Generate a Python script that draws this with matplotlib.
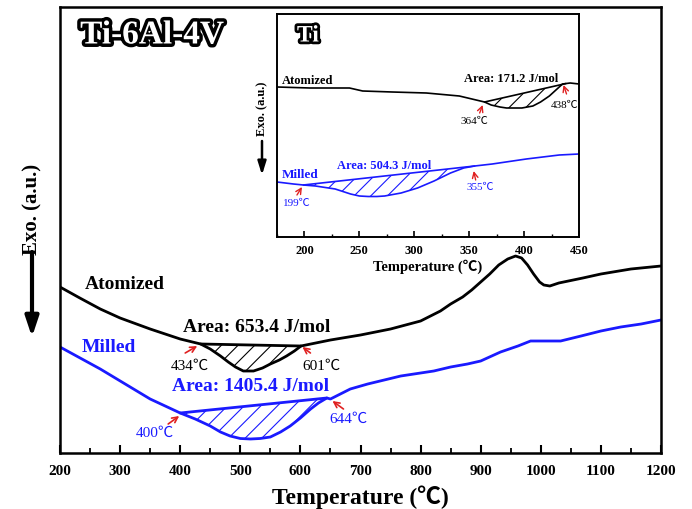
import numpy as np
import matplotlib
matplotlib.use("Agg")
import matplotlib.pyplot as plt
import matplotlib.patheffects as pe
from matplotlib.patches import FancyArrowPatch
from matplotlib.ticker import MultipleLocator

# ---------------- data (main chart: Ti-6Al-4V) ----------------
atom_T = [200, 233, 267, 300, 350, 400, 434, 450, 467, 480, 492, 505, 522, 537, 550,
          565, 577, 590, 601, 650, 700, 750, 800, 833, 850, 870, 885, 900, 915, 930,
          945, 958, 968, 978, 988, 998, 1005, 1015, 1030, 1070, 1100, 1150, 1200]
atom_y = [166, 155, 144, 135, 124, 114, 109, 104, 97, 91, 86, 82, 82, 85, 89,
          93, 97, 102, 107, 113, 118, 124, 132, 142, 149, 156, 163, 171, 179, 188,
          194, 197, 195, 188, 179, 171, 168, 167, 170, 175, 179, 184, 187]
mill_T = [200, 267, 350, 400, 425, 450, 467, 483, 500, 517, 533, 550, 567, 583, 600,
          617, 630, 644, 650, 683, 712, 767, 822, 850, 878, 900, 933, 962, 983, 1012,
          1033, 1067, 1100, 1133, 1167, 1200]
mill_y = [106, 84, 54, 40, 34, 27, 21, 17, 14.5, 14, 14.5, 16, 21, 27, 35,
          44, 50, 55, 54, 64, 69, 77, 82, 86, 89, 92, 101, 107, 112, 112,
          112, 117, 122, 126, 129, 133]
atom_peak = (434, 601)
mill_peak = (400, 644)
main_ticks = [200, 300, 400, 500, 600, 700, 800, 900, 1000, 1100, 1200]

# ---------------- data (inset: Ti) ----------------
ti_atom_T = [175, 205, 241, 253, 280, 311, 341, 364, 370, 378, 384, 390, 398, 408, 415,
             423, 429, 435, 442, 450]
ti_atom_y = [150, 149, 149, 146, 145, 144, 141, 135, 132, 130, 129, 129, 129, 131, 135,
             141, 147, 153, 154, 153]
ti_mill_T = [175, 190, 199, 210, 222, 228, 242, 250, 258, 266, 273, 288, 303, 318, 333,
             345, 355, 371, 402, 432, 450]
ti_mill_y = [55, 53, 52, 51, 49, 48, 43, 41, 40.5, 40.5, 41, 44, 49, 56, 64,
             69, 71, 73, 78, 82, 83]
ti_atom_peak = (364, 438)
ti_mill_peak = (199, 355)
inset_ticks = [200, 250, 300, 350, 400, 450]

serif = ['Liberation Serif', 'Noto Sans CJK SC', 'DejaVu Serif']
plt.rcParams['font.family'] = serif
plt.rcParams['hatch.linewidth'] = 0.8

BLUE = '#1a1aff'
RED = '#e02020'

fig = plt.figure(figsize=(6.92, 5.10), dpi=100)
ax = fig.add_axes([60/692, 1-454/510, 601/692, 446/510])


def px2main(x, y):
    return 200 + (x-60)/0.6, 454 - y


def px2ins(x, y):
    return 175 + (x-277)/1.1, 238 - y


def peak_fill(a, T, y, t0, t1, color, lw):
    T = np.asarray(T, float); y = np.asarray(y, float)
    y0 = np.interp(t0, T, y); y1 = np.interp(t1, T, y)
    m = (T > t0) & (T < t1)
    tt = np.concatenate([[t0], T[m], [t1]])
    yy = np.concatenate([[y0], y[m], [y1]])
    base = y0 + (y1 - y0) * (tt - t0) / (t1 - t0)
    a.fill_between(tt, yy, base, facecolor='none', edgecolor=color,
                   hatch='//', linewidth=0)
    a.plot([t0, t1], [y0, y1], color=color, lw=lw, solid_capstyle='round')


ax.plot(atom_T, atom_y, color='black', lw=2.0, solid_joinstyle='round')
ax.plot(mill_T, mill_y, color=BLUE, lw=2.0, solid_joinstyle='round')
peak_fill(ax, atom_T, atom_y, *atom_peak, 'black', 2.0)
peak_fill(ax, mill_T, mill_y, *mill_peak, BLUE, 2.0)

ax.set_xlim(200, 1200)
ax.set_ylim(0, 446)
ax.set_xticks(main_ticks)
ax.xaxis.set_minor_locator(MultipleLocator(50))
ax.set_yticks([])
ax.tick_params(axis='x', which='major', direction='in', length=6, width=1.5,
               pad=8, labelsize=11)
ax.tick_params(axis='x', which='minor', direction='in', length=3.5, width=1.3)
for lab in ax.get_xticklabels():
    lab.set_fontweight('bold')
for s in ax.spines.values():
    s.set_linewidth(1.8)
ax.set_xlabel('Temperature (℃)', fontsize=17, fontweight='bold', labelpad=5)

# main texts
ax.text(*px2main(152, 36), 'Ti-6Al-4V', fontsize=24, fontweight='bold', color='white',
        ha='center', va='center',
        path_effects=[pe.withStroke(linewidth=5, foreground='black')])
ax.text(*px2main(85, 285), 'Atomized', fontsize=14, fontweight='bold',
        ha='left', va='center', color='black')
ax.text(*px2main(82, 348), 'Milled', fontsize=14, fontweight='bold',
        ha='left', va='center', color=BLUE)
ax.text(*px2main(256, 328), 'Area: 653.4 J/mol', fontsize=14,
        fontweight='bold', ha='center', va='center', color='black')
ax.text(*px2main(250, 387), 'Area: 1405.4 J/mol', fontsize=14,
        fontweight='bold', ha='center', va='center', color=BLUE)

ann = dict(arrowstyle='->', color=RED, lw=1.2, shrinkA=0, shrinkB=0)
ax.annotate('', xy=px2main(197, 347), xytext=px2main(185, 354), arrowprops=ann)
ax.annotate('', xy=px2main(302, 348), xytext=px2main(310, 354), arrowprops=ann)
ax.annotate('', xy=px2main(179, 417), xytext=px2main(168, 425), arrowprops=ann)
ax.annotate('', xy=px2main(332, 402), xytext=px2main(343, 410), arrowprops=ann)
ax.text(*px2main(190, 366), '434℃', fontsize=11, ha='center', va='center', color='black')
ax.text(*px2main(321, 366), '601℃', fontsize=11, ha='center', va='center', color='black')
ax.text(*px2main(155, 433), '400℃', fontsize=11, ha='center', va='center', color=BLUE)
ax.text(*px2main(348, 419), '644℃', fontsize=11, ha='center', va='center', color=BLUE)

# main y label with arrow
fig.text(32/692, 1-209/510, 'Exo. (a.u.)', rotation=90, fontsize=15,
         fontweight='bold', ha='center', va='center')
fig.add_artist(FancyArrowPatch(
    (32/692, 1-253/510), (32/692, 1-338/510), transform=fig.transFigure,
    arrowstyle='-|>,head_width=4,head_length=12', lw=3, color='black',
    shrinkA=0, shrinkB=0, mutation_scale=1))

# ---------------- inset ----------------
ins = fig.add_axes([277/692, 1-238/510, 302/692, 223/510])
ins.set_facecolor('white')
ins.plot(ti_atom_T, ti_atom_y, color='black', lw=1.2, solid_joinstyle='round')
ins.plot(ti_mill_T, ti_mill_y, color=BLUE, lw=1.2, solid_joinstyle='round')
peak_fill(ins, ti_atom_T, ti_atom_y, *ti_atom_peak, 'black', 1.2)
peak_fill(ins, ti_mill_T, ti_mill_y, *ti_mill_peak, BLUE, 1.2)
ins.set_xlim(175, 450)
ins.set_ylim(0, 223)
ins.set_xticks(inset_ticks)
ins.xaxis.set_minor_locator(MultipleLocator(25))
ins.set_yticks([])
ins.tick_params(axis='x', which='major', direction='in', length=4, width=1.2,
                pad=5, labelsize=9)
ins.tick_params(axis='x', which='minor', direction='in', length=2.5, width=1.0)
for lab in ins.get_xticklabels():
    lab.set_fontweight('bold')
for s in ins.spines.values():
    s.set_linewidth(1.4)
ins.set_xlabel('Temperature (℃)', fontsize=10.5, fontweight='bold', labelpad=2)

ins.text(*px2ins(308, 37), 'Ti', fontsize=17, fontweight='bold', color='white',
         ha='center', va='center',
         path_effects=[pe.withStroke(linewidth=4, foreground='black')])
ins.text(*px2ins(282, 81), 'Atomized', fontsize=9, fontweight='bold',
         ha='left', va='center', color='black')
ins.text(*px2ins(282, 175), 'Milled', fontsize=9.5, fontweight='bold',
         ha='left', va='center', color=BLUE)
ins.text(*px2ins(512, 79), 'Area: 171.2 J/mol', fontsize=9, fontweight='bold',
         ha='center', va='center', color='black')
ins.text(*px2ins(384, 166), 'Area: 504.3 J/mol', fontsize=9, fontweight='bold',
         ha='center', va='center', color=BLUE)
ann2 = dict(arrowstyle='->', color=RED, lw=1.0, shrinkA=0, shrinkB=0)
ins.annotate('', xy=px2ins(483, 106), xytext=px2ins(480, 114), arrowprops=ann2)
ins.annotate('', xy=px2ins(564, 86), xytext=px2ins(567, 95), arrowprops=ann2)
ins.annotate('', xy=px2ins(302, 188), xytext=px2ins(297, 196), arrowprops=ann2)
ins.annotate('', xy=px2ins(474, 172), xytext=px2ins(476, 181), arrowprops=ann2)
ins.text(*px2ins(475, 121), '364℃', fontsize=8, ha='center', va='center', color='black')
ins.text(*px2ins(565, 106), '438℃', fontsize=8, ha='center', va='center', color='black')
ins.text(*px2ins(297, 204), '199℃', fontsize=8, ha='center', va='center', color=BLUE)
ins.text(*px2ins(481, 188), '355℃', fontsize=8, ha='center', va='center', color=BLUE)

fig.text(262/692, 1-109/510, 'Exo. (a.u.)', rotation=90, fontsize=9,
         fontweight='bold', ha='center', va='center')
fig.add_artist(FancyArrowPatch(
    (262/692, 1-142/510), (262/692, 1-176/510), transform=fig.transFigure,
    arrowstyle='-|>,head_width=2.5,head_length=8', lw=1.8, color='black',
    shrinkA=0, shrinkB=0, mutation_scale=1))

fig.savefig('out.png', dpi=100)
